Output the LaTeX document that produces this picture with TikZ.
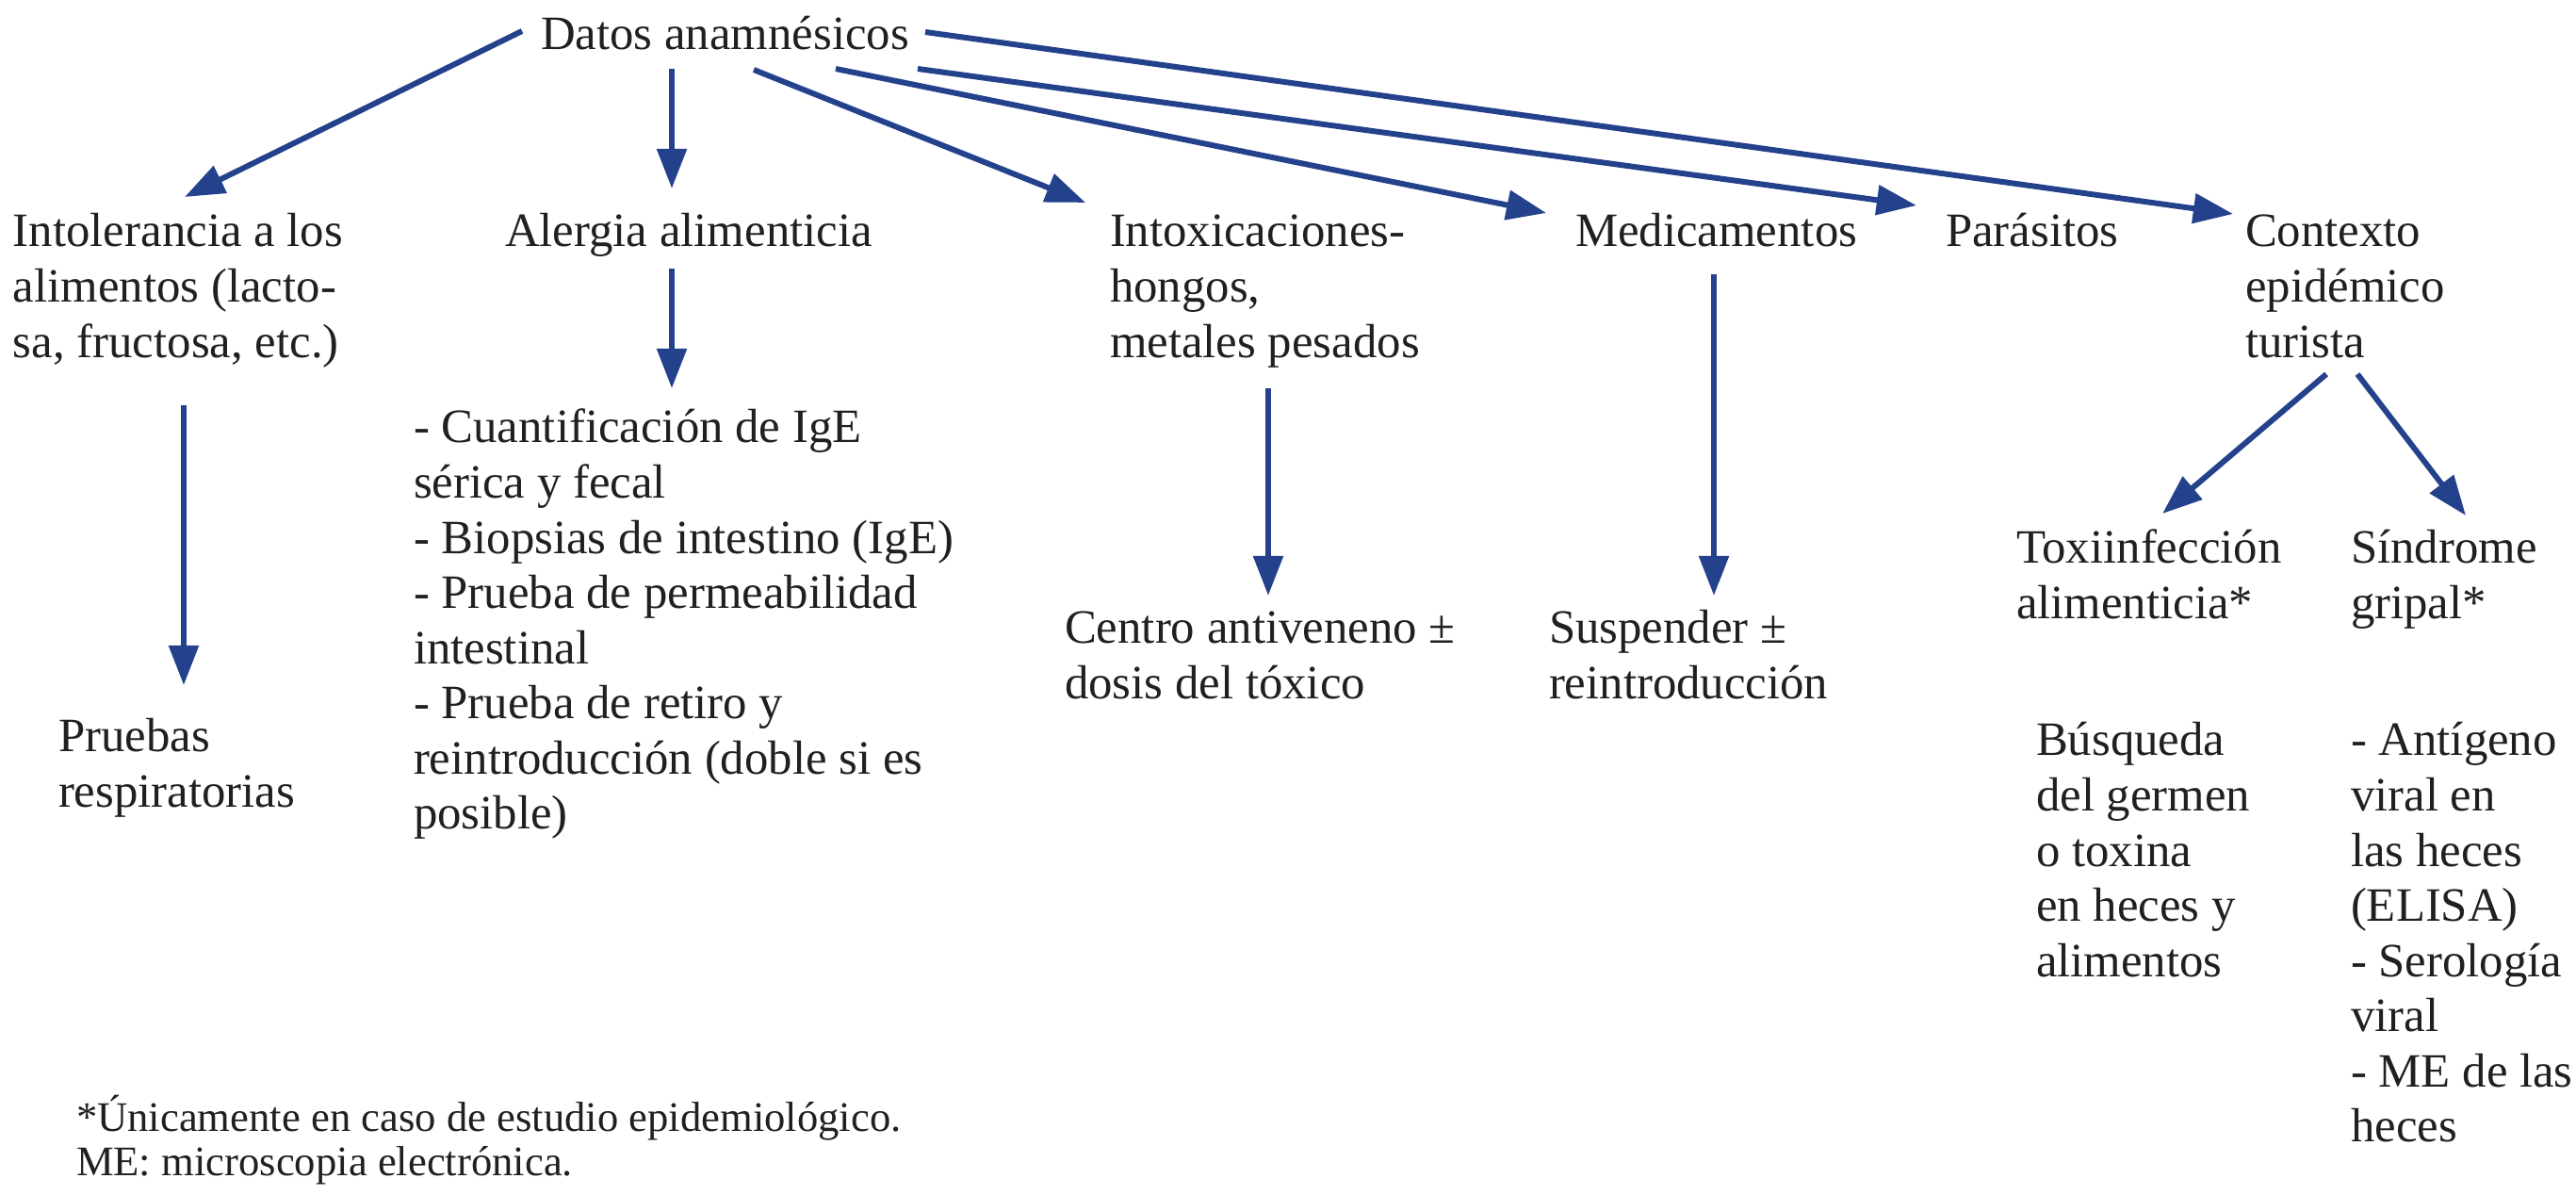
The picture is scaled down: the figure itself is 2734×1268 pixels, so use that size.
\documentclass[tikz,border=0pt]{standalone}
\usepackage{fontspec}
\setmainfont{Liberation Serif}
\usetikzlibrary{arrows.meta}
\definecolor{arrblue}{HTML}{24418C}
\definecolor{ink}{HTML}{231F20}
\newcommand\mlines[1]{\begin{tabular}[t]{@{}l@{}}#1\end{tabular}}
\begin{document}
\begin{tikzpicture}[x=0.01cm,y=-0.01cm,
  lbl/.style={anchor=base west, inner sep=0pt, outer sep=0pt, text=ink,
    font=\fontsize{14.45}{16.64}\selectfont},
  footlbl/.style={lbl, font=\fontsize{12.7}{13.37}\selectfont},
  arr/.style={draw=arrblue, line width=1.7pt, -{Triangle[length=12pt,width=8.8pt]}}]
\useasboundingbox (0,0) rectangle (2734,1268);
% nodes
\node[lbl] (datos) at (574,53) {Datos anamnésicos};
\node[lbl] (intol) at (14,262) {\mlines{Intolerancia a los\\alimentos (lacto-\\sa, fructosa, etc.)}};
\node[lbl] (alerg) at (536,262) {Alergia alimenticia};
\node[lbl] (intox) at (1178,262) {\mlines{Intoxicaciones-\\hongos,\\metales pesados}};
\node[lbl] (medic) at (1672,262) {Medicamentos};
\node[lbl] (paras) at (2065,262) {Parásitos};
\node[lbl] (contx) at (2383,262) {\mlines{Contexto\\epidémico\\turista}};
\node[lbl] (prueb) at (62,798) {\mlines{Pruebas\\respiratorias}};
\node[lbl] (alist) at (439,470) {\mlines{- Cuantificación de IgE\\sérica y fecal\\- Biopsias de intestino (IgE)\\- Prueba de permeabilidad\\intestinal\\- Prueba de retiro y\\reintroducción (doble si es\\posible)}};
\node[lbl] (centro) at (1130,683) {\mlines{Centro antiveneno ±\\dosis del tóxico}};
\node[lbl] (susp) at (1644,683) {\mlines{Suspender ±\\reintroducción}};
\node[lbl] (toxi) at (2140,598) {\mlines{Toxiinfección\\alimenticia*}};
\node[lbl] (sindr) at (2495,598) {\mlines{Síndrome\\gripal*}};
\node[lbl] (busq) at (2161,802) {\mlines{Búsqueda\\del germen\\o toxina\\en heces y\\alimentos}};
\node[lbl] (antig) at (2495,802) {\mlines{- Antígeno\\viral en\\las heces\\(ELISA)\\- Serología\\viral\\- ME de las\\heces}};
\node[footlbl] (nota) at (81,1200) {\mlines{*Únicamente en caso de estudio epidemiológico.\\ME: microscopia electrónica.}};
% connectors
\draw[arr] ([shift={(-20,-20)}]datos.base west) -- ([shift={(182,-53)}]intol.base west);
\draw[arr] ([shift={(139,20)}]datos.base west) -- ([shift={(177,-62)}]alerg.base west);
\draw[arr] ([shift={(177,23)}]alerg.base west) -- ([shift={(274,-58)}]alist.base west);
\draw[arr] ([shift={(181,168)}]intol.base west) -- ([shift={(133,-71)}]prueb.base west);
\draw[arr] ([shift={(226,21)}]datos.base west) -- ([shift={(-26,-47)}]intox.base west);
\draw[arr] ([shift={(313,20)}]datos.base west) -- ([shift={(-31,-36)}]medic.base west);
\draw[arr] ([shift={(400,20)}]datos.base west) -- ([shift={(-31,-44)}]paras.base west);
\draw[arr] ([shift={(408,-19)}]datos.base west) -- ([shift={(-13,-35)}]contx.base west);
\draw[arr] ([shift={(168,150)}]intox.base west) -- ([shift={(216,-51)}]centro.base west);
\draw[arr] ([shift={(147,29)}]medic.base west) -- ([shift={(175,-51)}]susp.base west);
\draw[arr] ([shift={(86,135)}]contx.base west) -- ([shift={(155,-53)}]toxi.base west);
\draw[arr] ([shift={(119,135)}]contx.base west) -- ([shift={(122,-51)}]sindr.base west);
\end{tikzpicture}
\end{document}
